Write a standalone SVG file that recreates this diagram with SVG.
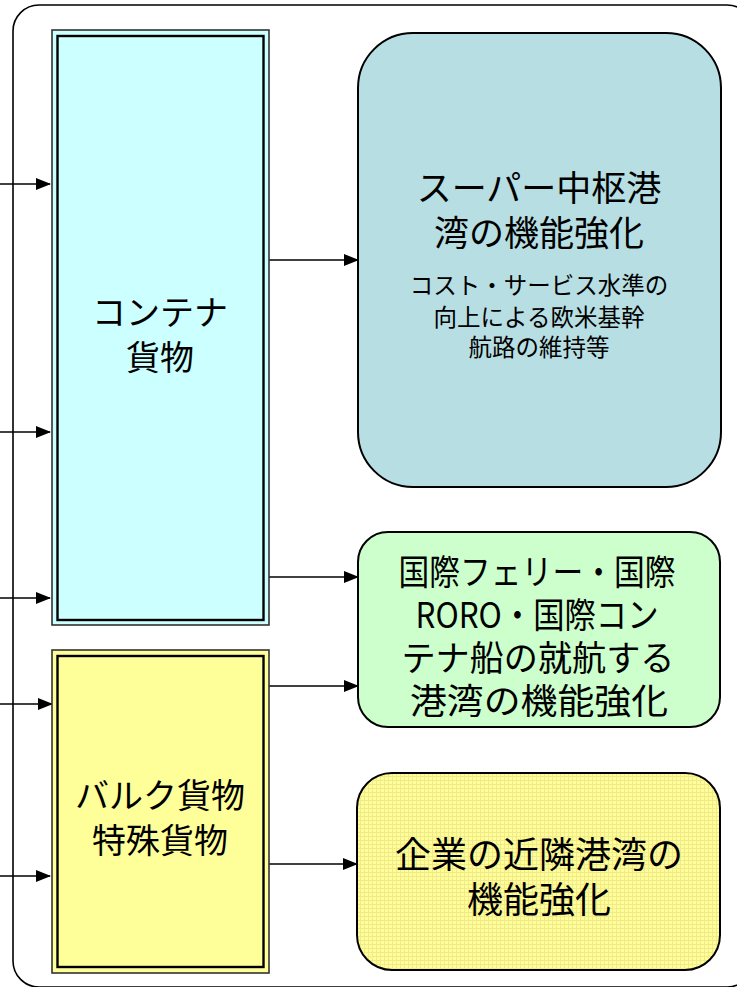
<svg xmlns="http://www.w3.org/2000/svg" width="737" height="987" viewBox="0 0 737 987">
<style>
text{font-family:"Noto Sans CJK JP","Noto Sans",sans-serif;fill:#000;text-anchor:middle}
.big{font-size:34px}
.sup{font-size:35px}
.grn{font-size:35px}
.yel{font-size:36px}
.sub{font-size:23.5px}
.conn{stroke:#000;stroke-width:1.5;fill:none;marker-end:url(#ah)}
.outer{stroke:#333;stroke-width:1.6}
.inner{fill:none;stroke:#000;stroke-width:2.4}
.rb{stroke:#000;stroke-width:2}
</style>
<defs>
<marker id="ah" markerWidth="15" markerHeight="12" refX="14" refY="6" orient="auto" markerUnits="userSpaceOnUse" viewBox="0 0 15 12">
<path d="M0,0 L15,6 L0,12 z" fill="#000"/>
</marker>
<pattern id="grid" width="4" height="4" patternUnits="userSpaceOnUse">
<rect width="4" height="4" fill="#FFFF99"/>
<path d="M0,0.5 H4 M0.5,0 V4" stroke="#F2E98A" stroke-width="1"/>
</pattern>
</defs>
<rect x="13" y="5" width="740" height="982" rx="26" fill="none" stroke="#000" stroke-width="1.6"/>
<g id="connectors">
<line class="conn" x1="0" y1="184" x2="50" y2="184"/>
<line class="conn" x1="0" y1="432" x2="50" y2="432"/>
<line class="conn" x1="0" y1="598" x2="50" y2="598"/>
<line class="conn" x1="0" y1="704" x2="52" y2="704"/>
<line class="conn" x1="0" y1="876" x2="50" y2="876"/>
<line class="conn" x1="268" y1="260" x2="358" y2="260"/>
<line class="conn" x1="268" y1="577" x2="358" y2="577"/>
<line class="conn" x1="268" y1="686" x2="358" y2="686"/>
<line class="conn" x1="268" y1="864" x2="357" y2="864"/>
</g>
<g id="container">
<rect x="52" y="30" width="217" height="595" style="fill:#CCFFFF" class="outer"/>
<rect x="57.5" y="36" width="206" height="584" class="inner"/>
<text class="big" x="160" y="325">コンテナ</text>
<text class="big" x="160" y="370">貨物</text>
</g>
<g id="bulk">
<rect x="52" y="650" width="217" height="323" style="fill:#FFFF99" class="outer"/>
<rect x="57.5" y="656" width="206" height="311" class="inner"/>
<text class="big" x="160" y="808">バルク貨物</text>
<text class="big" x="160" y="853">特殊貨物</text>
</g>
<g id="super">
<rect x="358" y="33" width="363" height="454" rx="55" style="fill:#B7DEE2" class="rb"/>
<text class="sup" x="539" y="201">スーパー中枢港</text>
<text class="sup" x="539" y="246">湾の機能強化</text>
<text class="sub" x="539" y="294">コスト・サービス水準の</text>
<text class="sub" x="539" y="326">向上による欧米基幹</text>
<text class="sub" x="539" y="356">航路の維持等</text>
</g>
<g id="ferry">
<rect x="358" y="532" width="362" height="195" rx="30" style="fill:#CCFFCC" class="rb"/>
<text class="grn" x="537" y="585" textLength="277" lengthAdjust="spacingAndGlyphs">国際フェリー・国際</text>
<text class="grn" x="537" y="628" textLength="243" lengthAdjust="spacingAndGlyphs">RORO・国際コン</text>
<text class="grn" x="538" y="671" textLength="273" lengthAdjust="spacingAndGlyphs">テナ船の就航する</text>
<text class="grn" x="539" y="714" textLength="258" lengthAdjust="spacingAndGlyphs">港湾の機能強化</text>
</g>
<g id="nearby">
<rect x="357" y="773" width="363" height="197" rx="35" style="fill:url(#grid)" class="rb"/>
<text class="yel" x="539" y="868">企業の近隣港湾の</text>
<text class="yel" x="539" y="913">機能強化</text>
</g>
</svg>
